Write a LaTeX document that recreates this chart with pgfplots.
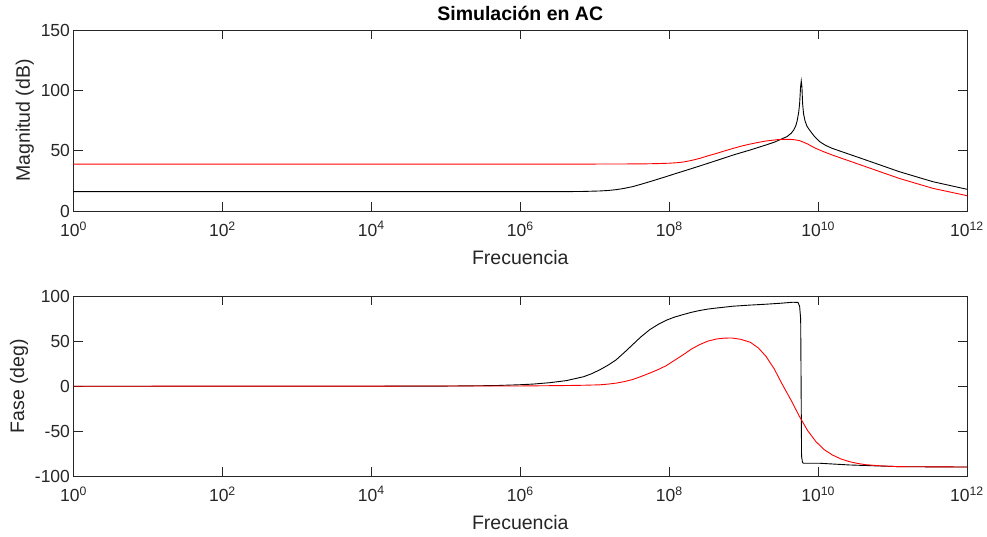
\documentclass[border=0pt]{standalone}
\usepackage{fontspec}
\setmainfont{Liberation Sans}
\usepackage{pgfplots}
\pgfplotsset{compat=1.18}
\definecolor{axgray}{rgb}{0.15,0.15,0.15}
\pgfplotsset{
  bode/.style={
    scale only axis, width=893.5pt,
    xmin=0, xmax=12, xtick={0,2,...,12},
    xticklabels={10\textsuperscript{0},10\textsuperscript{2},10\textsuperscript{4},10\textsuperscript{6},10\textsuperscript{8},10\textsuperscript{10},10\textsuperscript{12}},
    axis line style={draw=axgray, line width=0.8pt},
    every tick/.style={draw=axgray, line width=0.8pt},
    major tick length=9pt, tick align=inside,
    tick label style={font=\fontsize{17.5}{20}\selectfont, text=axgray},
    xticklabel style={yshift=-7pt},
    label style={font=\fontsize{19.5}{22}\selectfont, text=axgray},
    xlabel style={yshift=-7pt},
    /pgf/number format/assume math mode=true,
    xlabel={Frecuencia},
    every axis plot/.append style={line width=0.9pt},
  }
}
\begin{document}
\begin{tikzpicture}
\path[use as bounding box] (0pt,0pt) rectangle (987pt,537pt);
% magnitude
\begin{axis}[bode, at={(73.5pt,326pt)}, anchor=south west, height=181pt,
  ymin=0, ymax=150, ytick={0,50,100,150}, ylabel={Magnitud (dB)},
  title={Simulación en AC},
  title style={font=\bfseries\fontsize{19.5}{22}\selectfont, text=black}]
\addplot[black] coordinates {
 (0,16.0) (6.4,16.0) (6.6,16.05) (6.85,16.2) (7.07,16.6) (7.18,17.0) (7.29,17.7)
 (7.40,18.8) (7.51,20.2) (7.62,22.1) (7.74,24.3) (7.85,26.4) (7.96,28.5) (8.07,30.7)
 (8.19,33.0) (8.41,37.3) (8.64,41.9) (8.86,46.4) (9.09,50.6) (9.30,54.7)
 (9.42,57.2) (9.506,59.6) (9.581,61.6) (9.64,64.5) (9.671,67.0) (9.70,70.5) (9.720,75.0)
 (9.740,82.0) (9.752,89.0) (9.765,103.0) (9.774,107.7) (9.783,103.0) (9.792,89.0)
 (9.805,80.5) (9.823,75.0) (9.85,70.3) (9.886,67.0) (9.953,61.6) (10.02,57.5)
 (10.10,54.4) (10.19,51.9) (10.64,42.3) (11.09,32.6) (11.54,24.3) (12,18.0)
};
\addplot[red] coordinates {
 (0,38.9) (7.0,38.9) (7.51,39.0) (7.7,39.1) (7.85,39.3) (8.0,39.6) (8.1,40.0)
 (8.19,40.6) (8.30,41.9) (8.41,43.6) (8.52,45.7) (8.64,47.8) (8.75,49.9)
 (8.86,51.9) (8.97,53.8) (9.09,55.5) (9.20,56.9) (9.30,58.0) (9.45,59.1) (9.54,59.4)
 (9.62,59.4) (9.69,59.0) (9.75,58.3) (9.80,57.1) (9.86,55.5) (9.91,53.8)
 (9.97,51.9) (10.08,49.0) (10.19,46.4) (10.64,36.7) (11.09,27.0) (11.54,18.8) (12,12.7)
};
\end{axis}
% phase
\begin{axis}[bode, at={(73.5pt,61pt)}, anchor=south west, height=179.5pt,
  ymin=-100, ymax=100, ytick={-100,-50,0,50,100}, ylabel={Fase (deg)}]
\addplot[black] coordinates {
 (0,0) (4,0.02) (5,0.2) (5.5,0.6) (5.72,0.9) (6.0,1.7) (6.17,2.4) (6.4,4.0) (6.62,6.3)
 (6.85,10.6) (6.96,14.0) (7.07,18.4) (7.18,23.5) (7.29,29.6) (7.40,37.8) (7.51,46.4)
 (7.62,55.0) (7.74,63.1) (7.85,68.8) (7.96,73.5) (8.07,77.0) (8.19,79.9) (8.30,82.4)
 (8.41,84.4) (8.52,86.0) (8.64,87.2) (8.86,89.2) (9.08,90.4) (9.30,91.4) (9.50,92.5)
 (9.66,93.6) (9.73,93.4) (9.752,89.0) (9.766,75.0) (9.772,0) (9.778,-78.0) (9.79,-84.5)
 (9.80,-85.8) (10.02,-85.8) (10.42,-87.7) (11.09,-89.6) (12,-90.0)
};
\addplot[red] coordinates {
 (0,0) (6,0.3) (6.62,0.8) (6.85,1.1) (7.07,1.6) (7.18,2.4) (7.29,3.5) (7.40,5.2)
 (7.51,7.5) (7.62,10.8) (7.74,14.7) (7.85,18.5) (7.96,22.9) (8.07,28.8)
 (8.19,35.2) (8.30,41.5) (8.41,46.4) (8.52,50.3) (8.64,52.7) (8.74,53.6) (8.84,53.8)
 (8.96,52.3) (9.09,49.0) (9.20,42.5) (9.30,33.3) (9.41,19.5) (9.51,3.5) (9.64,-16.0)
 (9.75,-33.7) (9.86,-49.5) (9.97,-61.6) (10.08,-70.5) (10.19,-76.5) (10.30,-80.8)
 (10.42,-84.0) (10.53,-86.0) (10.64,-87.4) (10.86,-88.8) (11.09,-89.6) (12,-90.0)
};
\end{axis}
\end{tikzpicture}
\end{document}
